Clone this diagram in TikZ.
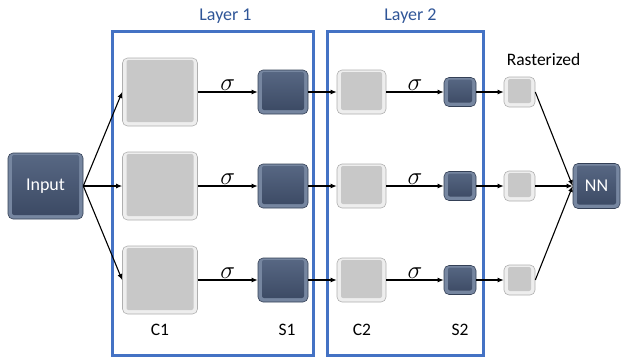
\documentclass[tikz,border=0pt]{standalone}
\usepackage{fontspec}
\setmainfont{Carlito}
\usetikzlibrary{arrows.meta}
\definecolor{frameblue}{RGB}{68,114,196}
\definecolor{labelblue}{RGB}{47,85,151}
\definecolor{lgedge}{RGB}{238,238,238}
\definecolor{lginner}{RGB}{200,200,200}
\definecolor{lgline}{RGB}{175,175,175}
\definecolor{dkedge}{RGB}{118,134,160}
\definecolor{dktop}{RGB}{88,104,132}
\definecolor{dkbot}{RGB}{58,72,98}
\definecolor{dkline}{RGB}{52,64,86}
\begin{document}
\begin{tikzpicture}[x=1pt,y=-1pt,
  lightbox/.style={draw=lgline, line width=0.6pt, rounded corners=5pt, fill=lgedge, inner sep=0pt,
    path picture={\fill[lginner, rounded corners=2pt]
      ([shift={(4pt,-2pt)}]path picture bounding box.north west) rectangle
      ([shift={(-4pt,4pt)}]path picture bounding box.south east);}},
  darkbox/.style={draw=dkline, line width=0.6pt, rounded corners=5pt, fill=dkedge, inner sep=0pt,
    text=white, font=\fontsize{18}{18}\selectfont,
    path picture={\shade[top color=dktop, bottom color=dkbot, rounded corners=2pt]
      ([shift={(4pt,-2pt)}]path picture bounding box.north west) rectangle
      ([shift={(-4pt,4pt)}]path picture bounding box.south east);}},
  frame/.style={draw=frameblue, line width=3pt, inner sep=0pt},
  arr/.style={-{Latex[length=6pt,width=5pt]}, line width=1.1pt, black},
  sig/.style={above, inner sep=1pt, font=\fontsize{23}{23}\selectfont},
  lbl/.style={anchor=base, font=\fontsize{17.5}{17.5}\selectfont},
  layerlbl/.style={anchor=base, text=labelblue, font=\fontsize{18}{18}\selectfont}
]
\useasboundingbox (0,0) rectangle (621,360);

% layer frames
\node[frame, minimum width=201pt, minimum height=324pt] (L1) at (213,193.5) {};
\node[frame, minimum width=156pt, minimum height=324pt] (L2) at (405.5,193.5) {};
\node[layerlbl] (L1t) at (225.5,20) {Layer 1};
\node[layerlbl] (L2t) at (410.5,20) {Layer 2};
\node[lbl] (Rt) at (543.5,65) {Rasterized};

% input and output
\node[darkbox, minimum width=75pt, minimum height=66pt] (in) at (45.5,186) {Input};
\node[darkbox, minimum width=47pt, minimum height=45pt] (nn) at (596.5,186) {NN};

\foreach \r/\y in {1/92, 2/186, 3/280}{
  \node[lightbox, minimum width=75pt, minimum height=68pt] (c1\r) at (160,\y) {};
  \node[darkbox, minimum width=50pt, minimum height=44pt] (s1\r) at (283,\y) {};
  \node[lightbox, minimum width=49pt, minimum height=44pt] (c2\r) at (361.5,\y) {};
  \node[darkbox, minimum width=32pt, minimum height=29pt] (s2\r) at (460,\y) {};
  \node[lightbox, minimum width=31pt, minimum height=30pt] (ra\r) at (519.5,\y) {};
  \draw[arr] (in.east) -- (c1\r.west);
  \draw[arr] (c1\r.east) -- node[sig] {$\sigma$} (s1\r.west);
  \draw[arr] (s1\r.east) -- (c2\r.west);
  \draw[arr] (c2\r.east) -- node[sig] {$\sigma$} (s2\r.west);
  \draw[arr] (s2\r.east) -- (ra\r.west);
  \draw[arr] (ra\r.east) -- (nn.west);
}

% bottom labels
\node[lbl] (lc1) at (160,335) {C1};
\node[lbl] (ls1) at (287,335) {S1};
\node[lbl] (lc2) at (362,335) {C2};
\node[lbl] (ls2) at (460,335) {S2};
\end{tikzpicture}
\end{document}
